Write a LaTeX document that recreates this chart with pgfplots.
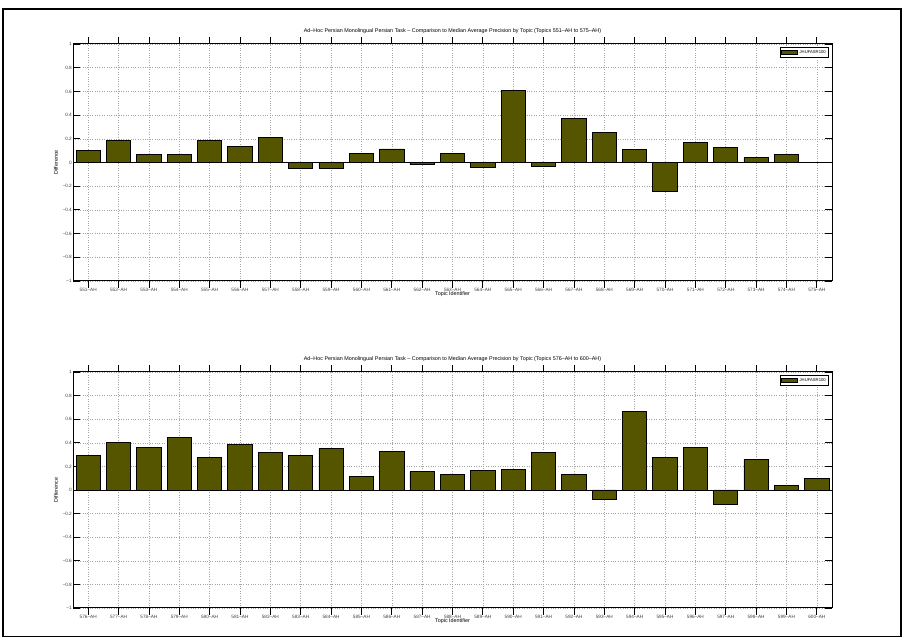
\documentclass[border=0pt]{standalone}
\usepackage{fontspec}
\setmainfont{Liberation Sans}
\usepackage{pgfplots}
\pgfplotsset{compat=1.18}
\definecolor{barolive}{RGB}{85,85,0}
\pgfplotsset{
  topicaxis/.style={
    scale only axis, width=759pt, height=237pt, anchor=south west,
    xmin=0.5, xmax=25.5, ymin=-1, ymax=1,
    xtick={1,...,25},
    ytick={-1,-0.8,-0.6,-0.4,-0.2,0,0.2,0.4,0.6,0.8,1},
    yticklabels={−1,−0.8,−0.6,−0.4,−0.2,0,0.2,0.4,0.6,0.8,1},
    /pgf/number format/assume math mode=true,
    tick align=inside, major tick length=7pt,
    tick style={black, line width=0.8pt},
    axis line style={black, line width=1pt},
    grid=major, major grid style={gray!70, dotted, line width=0.5pt},
    ticklabel style={font=\fontsize{4.7}{5}\selectfont, inner sep=1pt, text=black!75},
    xticklabel style={inner sep=0.5pt, yshift=0.5pt},
    title style={font=\fontsize{5.4}{6}\selectfont, at={(axis description cs:0.5,1)}, anchor=south, inner sep=0pt, yshift=4.5pt},
    xlabel style={font=\fontsize{5.4}{6}\selectfont, at={(axis description cs:0.5,0)}, anchor=center, inner sep=0pt, yshift=-13pt},
    ylabel style={font=\fontsize{5.4}{6}\selectfont, at={(axis description cs:-0.0224,0.5)}, anchor=center, inner sep=0pt},
    xlabel={Topic Identifier}, ylabel={Difference},
    ybar, bar width=24.3pt, bar shift=0pt,
    legend style={at={(rel axis cs:0.996,0.987)}, anchor=north east, font=\fontsize{4.2}{4.5}\selectfont, draw=black, line width=0.8pt, inner sep=0.8pt, row sep=0pt, cells={anchor=west}},
    legend image code/.code={\draw[#1, line width=0.5pt] (0pt,-1.8pt) rectangle (16pt,1.8pt);},
    clip=false,
  }
}
\begin{document}
\begin{tikzpicture}
\path (0pt,0pt) rectangle (906pt,642pt);
\draw[black, line width=1.2pt] (3pt,5.5pt) rectangle (901pt,633pt);
\begin{axis}[topicaxis, at={(73pt,361pt)},
  title={Ad–Hoc Persian Monolingual Persian Task – Comparison to Median Average Precision by Topic (Topics 551–AH to 575–AH)},
  xticklabels={551–AH,552–AH,553–AH,554–AH,555–AH,556–AH,557–AH,558–AH,559–AH,560–AH,561–AH,562–AH,563–AH,564–AH,565–AH,566–AH,567–AH,568–AH,569–AH,570–AH,571–AH,572–AH,573–AH,574–AH,575–AH}]
\addplot[fill=barolive, draw=black, line width=0.8pt] coordinates {
(1,0.100) (2,0.186) (3,0.066) (4,0.066) (5,0.186) (6,0.137) (7,0.209) (8,-0.051) (9,-0.051) (10,0.080)
(11,0.114) (12,-0.020) (13,0.077) (14,-0.040) (15,0.611) (16,-0.031) (17,0.369) (18,0.251) (19,0.113) (20,-0.248)
(21,0.166) (22,0.127) (23,0.039) (24,0.070) (25,0.000)};
\addlegendentry{JHUFASR100}
\draw[black, line width=0.8pt] (axis cs:0.5,0) -- (axis cs:25.5,0);
\end{axis}
\begin{axis}[topicaxis, at={(73pt,34pt)}, height=236pt,
  title={Ad–Hoc Persian Monolingual Persian Task – Comparison to Median Average Precision by Topic (Topics 576–AH to 600–AH)},
  xticklabels={576–AH,577–AH,578–AH,579–AH,580–AH,581–AH,582–AH,583–AH,584–AH,585–AH,586–AH,587–AH,588–AH,589–AH,590–AH,591–AH,592–AH,593–AH,594–AH,595–AH,596–AH,597–AH,598–AH,599–AH,600–AH}]
\addplot[fill=barolive, draw=black, line width=0.8pt] coordinates {
(1,0.296) (2,0.400) (3,0.358) (4,0.448) (5,0.279) (6,0.389) (7,0.315) (8,0.290) (9,0.352) (10,0.118)
(11,0.324) (12,0.155) (13,0.135) (14,0.163) (15,0.177) (16,0.321) (17,0.135) (18,-0.079) (19,0.662) (20,0.279)
(21,0.361) (22,-0.118) (23,0.259) (24,0.039) (25,0.099)};
\addlegendentry{JHUFASR100}
\draw[black, line width=0.8pt] (axis cs:0.5,0) -- (axis cs:25.5,0);
\end{axis}
\end{tikzpicture}
\end{document}
